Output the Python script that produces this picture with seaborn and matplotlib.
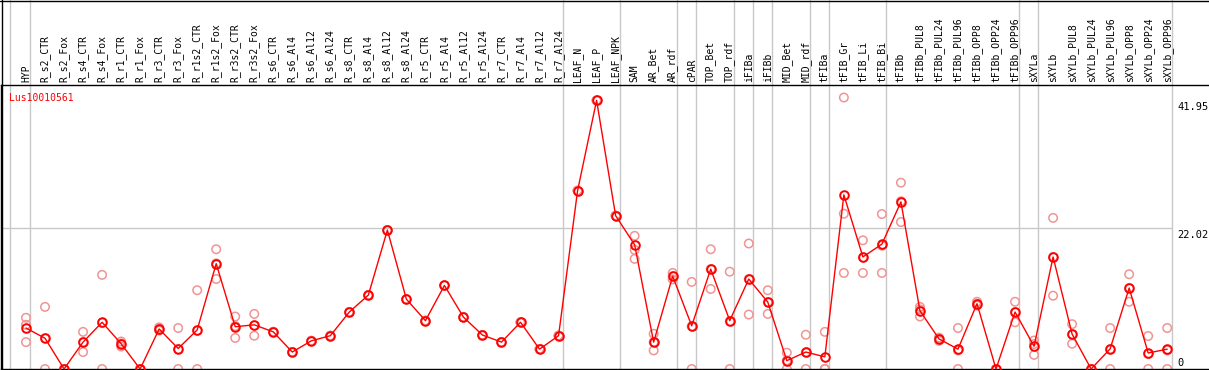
import matplotlib
matplotlib.use("Agg")
import pandas as pd
import seaborn as sns
import matplotlib.pyplot as plt
from matplotlib.lines import Line2D

# 样本名称（顶部竖排标签）
samples = ["HYP", "R_s2_CTR", "R_s2_Fox", "R_s4_CTR", "R_s4_Fox", "R_r1_CTR", "R_r1_Fox",
           "R_r3_CTR", "R_r3_Fox", "R_r1s2_CTR", "R_r1s2_Fox", "R_r3s2_CTR", "R_r3s2_Fox",
           "R_s6_CTR", "R_s6_Al4", "R_s6_Al12", "R_s6_Al24", "R_s8_CTR", "R_s8_Al4",
           "R_s8_Al12", "R_s8_Al24", "R_r5_CTR", "R_r5_Al4", "R_r5_Al12", "R_r5_Al24",
           "R_r7_CTR", "R_r7_Al4", "R_r7_Al12", "R_r7_Al24", "LEAF_N", "LEAF_P", "LEAF_NPK",
           "SAM", "AR_Bet", "AR_rdf", "cPAR", "TOP_Bet", "TOP_rdf", "iFIBa", "iFIBb",
           "MID_Bet", "MID_rdf", "tFIBa", "tFIB_Gr", "tFIB_Li", "tFIB_Bi", "tFIBb",
           "tFIBb_PUL8", "tFIBb_PUL24", "tFIBb_PUL96", "tFIBb_OPP8", "tFIBb_OPP24",
           "tFIBb_OPP96", "sXYLa", "sXYLb", "sXYLb_PUL8", "sXYLb_PUL24", "sXYLb_PUL96",
           "sXYLb_OPP8", "sXYLb_OPP24", "sXYLb_OPP96"]

# 平均表达量（红线）
means = [6.4, 4.8, 0, 4.2, 7.3, 3.95, 0, 6.25, 3.2, 6.1, 16.45, 6.6, 6.9,
         5.8, 2.65, 4.4, 5.2, 8.9, 11.55, 21.7, 10.9, 7.55, 13.05, 8.1, 5.3,
         4.2, 7.3, 3.1, 5.2, 27.85, 41.95, 23.95, 19.4, 4.2, 14.5, 6.75, 15.6,
         7.55, 14.05, 10.45, 1.3, 2.65, 1.9, 27.2, 17.5, 19.5, 26.1, 9.1, 4.7,
         3.1, 10.2, 0, 8.9, 3.55, 17.5, 5.45, 0, 3.15, 12.65, 2.5, 3.1]

# 三个重复（浅红色空心圆）
rep_a = [8.0, 9.7, 0, 5.8, 14.7, 4.3, 0, 6.5, 6.4, 12.3, 18.7, 8.2, 8.6,
         5.8, 2.65, 4.4, 5.2, 8.9, 11.55, 21.7, 10.9, 7.55, 13.05, 8.1, 5.3,
         4.2, 7.3, 3.1, 5.2, 27.85, 41.95, 23.95, 20.8, 5.5, 15.0, 13.6, 18.7,
         15.2, 19.6, 12.3, 2.55, 5.35, 5.8, 42.4, 20.1, 24.2, 29.1, 9.7, 4.9,
         6.4, 10.5, 0, 10.5, 4.45, 23.6, 7.0, 0, 6.4, 14.8, 5.15, 6.4]
rep_b = [6.9, 4.8, 0, 4.2, 7.2, 3.5, 0, 6.0, 3.1, 6.0, 16.5, 6.7, 6.8,
         5.8, 2.65, 4.4, 5.2, 8.9, 11.55, 21.7, 10.9, 7.55, 13.05, 8.1, 5.3,
         4.2, 7.3, 3.1, 5.2, 27.85, 41.95, 23.95, 18.6, 4.2, 14.5, 6.65, 15.6,
         7.45, 14.05, 10.45, 1.35, 2.6, 0, 24.25, 17.4, 19.25, 26.2, 9.3, 4.7,
         2.9, 10.2, 0, 8.9, 3.9, 17.5, 5.4, 0, 3.1, 12.65, 2.35, 2.9]
rep_c = [4.2, 0, 0, 2.65, 0, 4.0, 0, 6.25, 0, 0, 14.05, 4.85, 5.2,
         5.8, 2.65, 4.4, 5.2, 8.9, 11.55, 21.7, 10.9, 7.55, 13.05, 8.1, 5.3,
         4.2, 7.3, 3.1, 5.2, 27.85, 41.95, 23.95, 17.2, 2.9, 14.0, 0, 12.5,
         0, 8.5, 8.6, 0, 0, 0, 15.0, 15.0, 15.0, 22.95, 8.2, 4.4,
         0, 9.9, 0, 7.3, 2.2, 11.45, 3.95, 0, 0, 10.5, 0, 0]

# 分组竖线所在样本序号（线画在该样本右侧）
group_ends = [0, 28, 31, 34, 35, 37, 38, 39, 41, 42, 45, 52, 53, 60]
y_marks = [41.95, 22.02, 0]
gene = "Lus10010561"

df = pd.DataFrame({"pos": range(len(samples)), "mean": means})
reps = pd.DataFrame({"pos": list(range(len(samples))) * 3,
                     "value": rep_a + rep_b + rep_c})

sns.set_style("white")
plt.rcParams['font.family'] = ['DejaVu Sans Mono', 'DejaVu Sans']
plt.rcParams['text.color'] = 'black'
plt.rcParams['xtick.color'] = 'black'

W, H = 1209, 370
fig = plt.figure(figsize=(W / 100, H / 100), dpi=100)
ax = fig.add_axes([1 / W, 1 / H, 1207 / W, 284 / H])

step = 19.02
x0 = 26
ax.set_xlim((1 - x0) / step, (1208 - x0) / step)
ax.set_ylim(0, 284 / 6.403)

# 分组竖线，贯穿顶部标签区
for g in [-1.07] + group_ends:
    ax.axvline(g + 0.23, ymin=0, ymax=H / 284, color="#c8c8c8", lw=1,
               clip_on=False, zorder=0)
ax.hlines(22.02, (1 - x0) / step, group_ends[-1] + 0.23, color="#c8c8c8", lw=1, zorder=0)

# 重复值
sns.scatterplot(x="pos", y="value", data=reps, ax=ax, s=37, marker="o",
                legend=False, zorder=2)
pts = ax.collections[-1]
pts.set_facecolor("none")
pts.set_edgecolor("#f09494")
pts.set_linewidth(1.1)
pts.set_clip_on(False)

# 平均值折线
sns.lineplot(x="pos", y="mean", data=df, ax=ax, color="red", lw=1,
             marker="o", markersize=6.2, markerfacecolor="none",
             markeredgecolor="red", markeredgewidth=1.4, zorder=3, clip_on=False)

ax.set_xticks(range(len(samples)))
ax.set_xticklabels(samples, rotation=90, fontsize=7, color="black")
ax.xaxis.tick_top()
ax.tick_params(axis="x", length=0, pad=2)
ax.set_yticks([])
ax.set_xlabel("")
ax.set_ylabel("")

for v in y_marks:
    if v == 0:
        ax.text(60.52, 0.5, "0", ha="left", va="baseline", fontsize=7.5, color="black")
    else:
        ax.text(60.52, v - 0.3, f"{v:.2f}", ha="left", va="top", fontsize=7.5, color="black")

ax.text(-0.9, 43.1, gene, color="red", ha="left", va="top", fontsize=7)

for side in ["left", "top", "bottom"]:
    ax.spines[side].set_color("black")
    ax.spines[side].set_linewidth(1)
ax.spines["right"].set_visible(False)

# 外框：顶部与左侧
fig.add_artist(Line2D([0, 1], [1 - 0.5 / H, 1 - 0.5 / H], color="black", lw=1))
fig.add_artist(Line2D([1.5 / W, 1.5 / W], [0, 1], color="black", lw=1))

fig.savefig("out.png", dpi=100)
